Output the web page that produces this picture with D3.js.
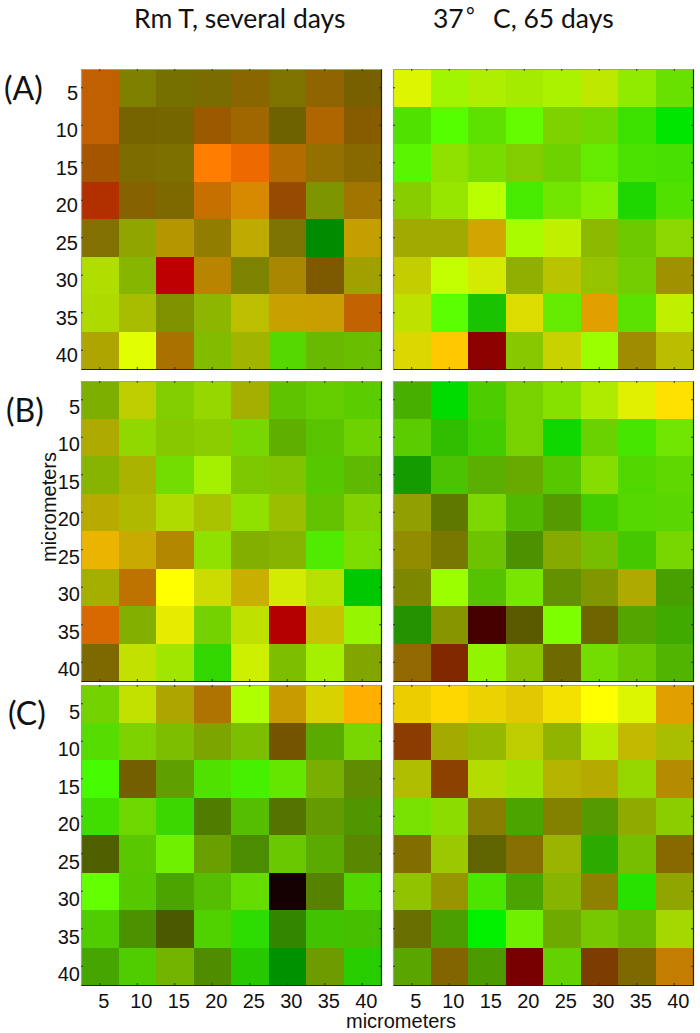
<!DOCTYPE html>
<html>
<head>
<meta charset="utf-8">
<style>
	html, body { margin: 0; padding: 0; background: #fff; }
	svg { display: block; }
	.tick-label { font-family: "Liberation Sans", Arial, sans-serif; font-size: 20px; fill: #111; }
	.axis-title { font-family: "Liberation Sans", Arial, sans-serif; font-size: 20px; fill: #111; }
	.heading { font-family: Lato, "Open Sans", sans-serif; font-size: 26.5px; fill: #111; }
	.panel-label { font-family: Lato, "Open Sans", sans-serif; font-size: 32px; fill: #111; }
</style>
</head>
<body>
<div id="chart"></div>
<script src="https://cdn.jsdelivr.net/npm/d3@7/dist/d3.min.js"></script>
<script>
var ticks = [5, 10, 15, 20, 25, 30, 35, 40];
var rowLabels = ['(A)', '(B)', '(C)'];

// red / green signal per cell (0-255)
var aLeftRed = [
	[192, 128, 118, 122, 138, 127, 144, 120],
	[192, 118, 118, 155, 160, 110, 175, 135],
	[165, 125, 125, 255, 238, 178, 148, 135],
	[178, 135, 125, 198, 215, 150, 125, 160],
	[130, 145, 182, 145, 190, 125, 0, 195],
	[175, 135, 190, 185, 125, 170, 125, 160],
	[175, 168, 128, 140, 190, 200, 200, 195],
	[175, 225, 170, 130, 160, 85, 105, 105]
];
var aLeftGreen = [
	[96, 128, 112, 108, 102, 115, 100, 96],
	[96, 100, 102, 90, 102, 98, 102, 92],
	[85, 108, 112, 125, 105, 108, 112, 105],
	[48, 98, 105, 112, 138, 75, 150, 118],
	[112, 165, 150, 125, 170, 115, 140, 160],
	[222, 182, 0, 132, 130, 135, 90, 160],
	[218, 188, 145, 182, 190, 160, 158, 98],
	[165, 255, 112, 188, 180, 215, 185, 190]
];
var aRightRed = [
	[222, 160, 175, 165, 170, 190, 145, 105],
	[80, 85, 95, 100, 125, 115, 60, 0],
	[90, 145, 120, 130, 110, 100, 75, 70],
	[135, 150, 185, 70, 115, 135, 30, 80],
	[160, 160, 210, 170, 190, 140, 110, 140],
	[195, 195, 210, 145, 185, 150, 115, 160],
	[190, 90, 25, 220, 100, 225, 90, 190],
	[220, 255, 140, 135, 200, 155, 160, 185]
];
var aRightGreen = [
	[245, 245, 238, 235, 242, 232, 235, 225],
	[225, 255, 225, 250, 210, 215, 225, 230],
	[245, 225, 220, 205, 210, 235, 225, 225],
	[205, 230, 255, 235, 230, 240, 215, 225],
	[170, 170, 165, 250, 240, 185, 200, 215],
	[205, 255, 235, 175, 195, 195, 205, 145],
	[225, 255, 195, 220, 235, 160, 225, 240],
	[215, 200, 0, 200, 210, 255, 140, 190]
];
var bLeftRed = [
	[125, 190, 130, 150, 165, 95, 100, 90],
	[175, 145, 135, 140, 120, 95, 90, 110],
	[135, 170, 115, 165, 125, 130, 85, 95],
	[185, 175, 175, 170, 145, 155, 100, 130],
	[235, 200, 180, 145, 130, 135, 80, 125],
	[165, 190, 255, 205, 200, 210, 180, 0],
	[215, 130, 230, 115, 190, 180, 200, 150],
	[125, 195, 160, 50, 205, 125, 165, 130]
];
var bLeftGreen = [
	[175, 205, 205, 215, 175, 195, 205, 205],
	[170, 215, 200, 205, 215, 175, 195, 210],
	[180, 180, 220, 240, 200, 195, 200, 185],
	[170, 185, 220, 195, 225, 190, 195, 210],
	[180, 170, 135, 225, 175, 180, 235, 220],
	[175, 115, 255, 220, 175, 235, 225, 200],
	[105, 175, 235, 210, 225, 0, 195, 245],
	[105, 225, 230, 215, 240, 190, 240, 165]
];
var bRightRed = [
	[70, 0, 75, 120, 135, 175, 225, 255],
	[90, 50, 65, 120, 15, 105, 70, 110],
	[20, 75, 90, 105, 85, 135, 80, 95],
	[145, 95, 125, 80, 85, 65, 85, 90],
	[145, 120, 110, 75, 135, 120, 70, 120],
	[125, 155, 85, 120, 100, 130, 175, 70],
	[35, 135, 70, 90, 125, 110, 85, 65],
	[145, 130, 145, 140, 110, 115, 105, 80]
];
var bRightGreen = [
	[175, 220, 205, 210, 225, 235, 240, 225],
	[205, 190, 205, 210, 215, 210, 230, 230],
	[155, 195, 175, 170, 200, 220, 215, 215],
	[160, 120, 215, 185, 155, 205, 215, 215],
	[140, 120, 195, 145, 170, 190, 200, 215],
	[135, 255, 195, 230, 145, 150, 170, 160],
	[145, 150, 0, 90, 255, 100, 165, 170],
	[105, 40, 245, 195, 105, 220, 200, 180]
];
var cLeftRed = [
	[115, 195, 175, 175, 175, 200, 215, 255],
	[85, 125, 125, 125, 125, 115, 90, 120],
	[70, 115, 95, 80, 70, 100, 120, 95],
	[65, 110, 60, 80, 85, 85, 100, 80],
	[80, 90, 110, 105, 75, 105, 90, 90],
	[100, 85, 75, 85, 100, 20, 85, 80],
	[80, 75, 75, 80, 45, 50, 65, 70],
	[70, 80, 115, 80, 40, 0, 110, 40]
];
var cLeftGreen = [
	[210, 225, 165, 115, 255, 155, 210, 175],
	[220, 210, 190, 165, 190, 85, 170, 215],
	[250, 95, 160, 225, 240, 230, 175, 140],
	[220, 215, 215, 125, 190, 115, 155, 150],
	[95, 200, 240, 160, 140, 200, 170, 135],
	[255, 200, 165, 190, 220, 0, 130, 215],
	[205, 145, 90, 210, 220, 135, 195, 190],
	[165, 205, 180, 140, 200, 145, 155, 205]
];
var cRightRed = [
	[235, 255, 235, 225, 245, 255, 220, 225],
	[140, 165, 150, 190, 145, 185, 195, 170],
	[175, 140, 180, 160, 180, 180, 150, 180],
	[120, 140, 135, 75, 130, 85, 145, 140],
	[130, 155, 95, 135, 155, 45, 120, 135],
	[145, 150, 75, 75, 135, 140, 40, 145],
	[105, 75, 0, 110, 110, 120, 105, 165],
	[90, 130, 75, 120, 100, 125, 125, 195]
];
var cRightGreen = [
	[205, 215, 210, 200, 225, 255, 245, 160],
	[60, 170, 185, 205, 180, 235, 185, 190],
	[190, 65, 220, 225, 180, 170, 215, 140],
	[225, 220, 125, 165, 130, 155, 170, 205],
	[110, 200, 100, 110, 180, 170, 190, 105],
	[195, 150, 230, 165, 180, 130, 225, 165],
	[110, 160, 240, 240, 170, 200, 185, 215],
	[165, 100, 155, 0, 210, 60, 105, 125]
];

var width = 700;
var height = 1033;
var plotSize = 300;
var rowTops = [69, 381, 685];
var colLefts = [81, 393];

var panels = [
	{ row: 0, col: 0, red: aLeftRed, green: aLeftGreen },
	{ row: 0, col: 1, red: aRightRed, green: aRightGreen },
	{ row: 1, col: 0, red: bLeftRed, green: bLeftGreen },
	{ row: 1, col: 1, red: bRightRed, green: bRightGreen },
	{ row: 2, col: 0, red: cLeftRed, green: cLeftGreen },
	{ row: 2, col: 1, red: cRightRed, green: cRightGreen }
];

var band = d3.scaleBand().domain(ticks).range([0, plotSize]);
var channel = d3.scaleLinear().domain([0, 255]).range([0, 255]);

var svg = d3.select('#chart').append('svg')
	.attr('width', width)
	.attr('height', height);

function drawPanel(panel) {
	var g = svg.append('g')
		.attr('transform', 'translate(' + colLefts[panel.col] + ',' + rowTops[panel.row] + ')');

	// one row of cells per y tick
	ticks.forEach(function(yTick, i) {
		g.selectAll('.cell-' + yTick)
			.data(ticks)
			.enter().append('rect')
			.attr('class', 'cell-' + yTick)
			.attr('x', function(d) { return band(d); })
			.attr('y', band(yTick))
			.attr('width', band.bandwidth() + 0.5)
			.attr('height', band.bandwidth() + 0.5)
			.attr('shape-rendering', 'crispEdges')
			.style('fill', function(d, j) {
				return d3.rgb(channel(panel.red[i][j]), channel(panel.green[i][j]), 0);
			});
	});

	// box: pale top and left edges, dark bottom and right like the source plots
	var axes = [
		{ axis: d3.axisTop(band), at: [0, 0], color: '#9aa0a8' },
		{ axis: d3.axisLeft(band), at: [0, 0], color: '#9aa0a8' },
		{ axis: d3.axisBottom(band), at: [0, plotSize], color: '#222' },
		{ axis: d3.axisRight(band), at: [plotSize, 0], color: '#222' }
	];
	axes.forEach(function(a) {
		var axisG = g.append('g')
			.attr('transform', 'translate(' + a.at[0] + ',' + a.at[1] + ')')
			.call(a.axis.tickSize(-2).tickSizeOuter(0).tickFormat(''));
		axisG.select('.domain').attr('stroke', a.color).attr('stroke-width', 1.2);
		axisG.selectAll('.tick line').attr('stroke', '#333');
		axisG.selectAll('.tick text').remove();
	});

	if (panel.col === 0) {
		g.selectAll('.y-label')
			.data(ticks)
			.enter().append('text')
			.attr('class', 'tick-label y-label')
			.attr('x', panel.row === 0 ? -3 : -1)
			.attr('y', function(d) { return band(d) + band.bandwidth() / 2 + [12, 14, 15][panel.row]; })
			.style('text-anchor', 'end')
			.text(function(d) { return d; });
	}
	if (panel.row === 2) {
		g.selectAll('.x-label')
			.data(ticks)
			.enter().append('text')
			.attr('class', 'tick-label x-label')
			.attr('x', function(d) { return band(d) + band.bandwidth() / 2 + 4; })
			.attr('y', plotSize + 23)
			.style('text-anchor', 'middle')
			.text(function(d) { return d; });
	}
}

panels.forEach(drawPanel);

// headings
svg.append('text')
	.attr('class', 'heading')
	.attr('x', 134)
	.attr('y', 28)
	.text('Rm T, several days');
svg.append('text')
	.attr('class', 'heading')
	.attr('x', 433)
	.attr('y', 28)
	.text('37');
svg.append('text')
	.attr('class', 'heading')
	.attr('x', 466)
	.attr('y', 23)
	.style('font-size', '21px')
	.text('\u00b0');
svg.append('text')
	.attr('class', 'heading')
	.attr('x', 493)
	.attr('y', 28)
	.text('C, 65 days');

// row labels
var labelPos = [[4, 100], [6, 422], [8, 725]];
svg.selectAll('.panel-label')
	.data(rowLabels)
	.enter().append('text')
	.attr('class', 'panel-label')
	.attr('x', function(d, i) { return labelPos[i][0]; })
	.attr('y', function(d, i) { return labelPos[i][1]; })
	.text(function(d) { return d; });

// axis titles
svg.append('text')
	.attr('class', 'axis-title')
	.attr('x', 401)
	.attr('y', 1028)
	.style('text-anchor', 'middle')
	.text('micrometers');
svg.append('text')
	.attr('class', 'axis-title')
	.attr('transform', 'translate(56,507) rotate(-90)')
	.style('text-anchor', 'middle')
	.text('micrometers');
</script>
</body>
</html>
